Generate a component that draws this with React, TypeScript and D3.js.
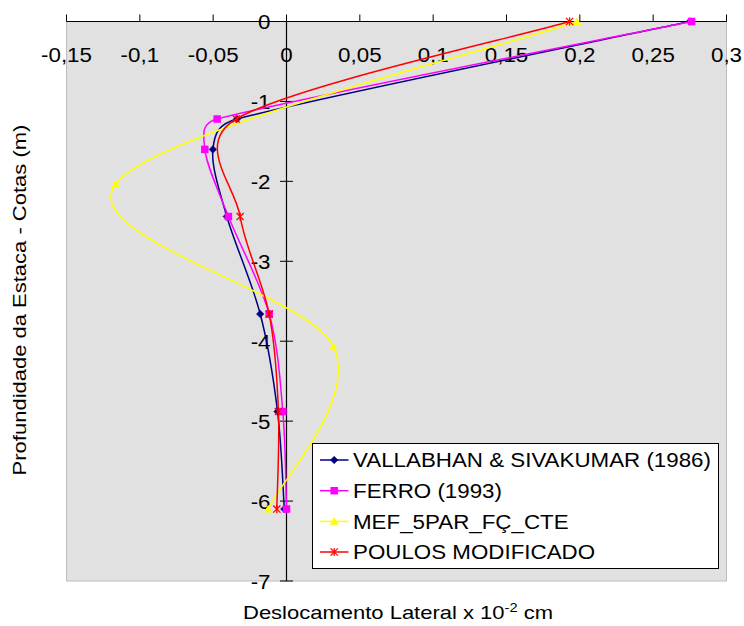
import React from "react";
import * as d3 from "d3";

// Displacement profiles along the pile (depth in m, displacement x 10^-2 cm)
const vallabhanDepth = [0, -1.22, -1.6, -2.44, -3.66, -4.88, -6.1];
const vallabhanDisp = [0.275, -0.0338, -0.0502, -0.0407, -0.0179, -0.0061, -0.0015];

const ferroDepth = [0, -1.22, -1.6, -2.44, -3.66, -4.88, -6.1];
const ferroDisp = [0.2762, -0.0473, -0.0557, -0.0396, -0.0118, -0.0025, 0.0];

const mefDepth = [0, -2.033, -4.067, -6.1];
const mefDisp = [0.198, -0.1165, 0.032, -0.0125];

const poulosDepth = [0, -1.22, -2.44, -3.66, -4.88, -6.1];
const poulosDisp = [0.193, -0.0343, -0.0316, -0.0118, -0.0055, -0.0066];

const seriesNames = [
  "VALLABHAN & SIVAKUMAR (1986)",
  "FERRO (1993)",
  "MEF_5PAR_FÇ_CTE",
  "POULOS MODIFICADO",
];
const seriesColors = ["#000080", "#ff00ff", "#ffff00", "#ff0000"];
const seriesMarkers = ["diamond", "square", "triangle", "asterisk"];

const xTicks = [-0.15, -0.1, -0.05, 0, 0.05, 0.1, 0.15, 0.2, 0.25, 0.3];
const yTicks = [0, -1, -2, -3, -4, -5, -6, -7];

const W = 744;
const H = 626;
const plot = { left: 66.5, right: 726.5, top: 21.5, bottom: 581 };
const FONT = "'Liberation Sans', Arial, Helvetica, sans-serif";

const x = d3.scaleLinear().domain([-0.15, 0.3]).range([plot.left, plot.right]);
const y = d3.scaleLinear().domain([0, -7]).range([plot.top, plot.bottom]);

const fmt = (v: number) => String(v).replace(".", ",");

type Pt = [number, number];

// Spreadsheet-style smoothed line: cubic Béziers with Catmull-Rom tangents,
// control arms capped at half the segment length to avoid overshoot.
function spreadsheetSmooth(context: any) {
  let pts: Pt[] = [];
  const dist = (a: Pt, b: Pt) => Math.hypot(a[0] - b[0], a[1] - b[1]);
  return {
    areaStart() {},
    areaEnd() {},
    lineStart() {
      pts = [];
    },
    point(px: number, py: number) {
      pts.push([+px, +py]);
    },
    lineEnd() {
      const n = pts.length;
      if (!n) return;
      context.moveTo(pts[0][0], pts[0][1]);
      for (let i = 0; i < n - 1; i++) {
        const p0 = pts[Math.max(i - 1, 0)];
        const p1 = pts[i];
        const p2 = pts[i + 1];
        const p3 = pts[Math.min(i + 2, n - 1)];
        const d12 = dist(p1, p2);
        const d02 = dist(p0, p2);
        const d13 = dist(p1, p3);
        let f1 = 1 / 6;
        let f2 = 1 / 6;
        if (d02 / 6 >= d12 / 2) f1 = d02 > 0 ? d12 / d02 / 2 : 0;
        if (d13 / 6 >= d12 / 2) f2 = d13 > 0 ? d12 / d13 / 2 : 0;
        context.bezierCurveTo(
          p1[0] + f1 * (p2[0] - p0[0]),
          p1[1] + f1 * (p2[1] - p0[1]),
          p2[0] - f2 * (p3[0] - p1[0]),
          p2[1] - f2 * (p3[1] - p1[1]),
          p2[0],
          p2[1]
        );
      }
    },
  };
}

function Marker({ kind, cx, cy, color }: { kind: string; cx: number; cy: number; color: string }) {
  if (kind === "diamond") {
    const r = 3.8;
    return (
      <polygon
        points={`${cx},${cy - r} ${cx + r},${cy} ${cx},${cy + r} ${cx - r},${cy}`}
        fill={color}
        stroke={color}
        strokeWidth={0.5}
      />
    );
  }
  if (kind === "square") {
    const s = 7.5;
    return <rect x={cx - s / 2} y={cy - s / 2} width={s} height={s} fill={color} />;
  }
  if (kind === "triangle") {
    const r = 4.3;
    return (
      <polygon
        points={`${cx},${cy - r} ${cx + r},${cy + r * 0.8} ${cx - r},${cy + r * 0.8}`}
        fill={color}
      />
    );
  }
  const r = 3.6;
  return (
    <g stroke={color} strokeWidth={1.3}>
      <line x1={cx - r} y1={cy - r} x2={cx + r} y2={cy + r} />
      <line x1={cx - r} y1={cy + r} x2={cx + r} y2={cy - r} />
      <line x1={cx} y1={cy - r - 0.5} x2={cx} y2={cy + r + 0.5} />
    </g>
  );
}

export default function App() {
  const series: Pt[][] = [
    vallabhanDisp.map((d, i) => [d, vallabhanDepth[i]] as Pt),
    ferroDisp.map((d, i) => [d, ferroDepth[i]] as Pt),
    mefDisp.map((d, i) => [d, mefDepth[i]] as Pt),
    poulosDisp.map((d, i) => [d, poulosDepth[i]] as Pt),
  ];

  const line = d3
    .line<Pt>()
    .x((p) => x(p[0]))
    .y((p) => y(p[1]))
    .curve(spreadsheetSmooth as any);

  const x0 = x(0);
  const legend = { x: 312.5, y: 443.5, w: 406, h: 125 };
  const legendRows = [467.3, 498, 528.7, 559.3];

  return (
    <svg
      width={W}
      height={H}
      style={{ position: "absolute", left: 0, top: 0, background: "#ffffff" }}
      fontFamily={FONT}
    >
      {/* plot area */}
      <rect
        x={plot.left}
        y={plot.top}
        width={plot.right - plot.left}
        height={plot.bottom - plot.top}
        fill="#e1e1e1"
        stroke="#bdbdbd"
        strokeWidth={1}
      />

      {/* horizontal axis along depth 0 */}
      <line x1={plot.left} x2={plot.right} y1={y(0)} y2={y(0)} stroke="#000" strokeWidth={1.2} />
      {xTicks.map((t) => (
        <g key={`xt${t}`}>
          <line x1={x(t)} x2={x(t)} y1={y(0) - 7} y2={y(0)} stroke="#000" strokeWidth={1} />
          <text
            transform={`translate(${x(t)},62) scale(1.09,1)`}
            textAnchor="middle"
            fontSize={20.5}
            fill="#000"
          >
            {fmt(t)}
          </text>
        </g>
      ))}

      {/* vertical axis along displacement 0 */}
      <line x1={x0} x2={x0} y1={plot.top} y2={plot.bottom} stroke="#000" strokeWidth={1.2} />
      {yTicks.map((t) => (
        <g key={`yt${t}`}>
          {t !== 0 && (
            <line x1={x0 - 6.5} x2={x0 + 6.5} y1={y(t)} y2={y(t)} stroke="#000" strokeWidth={1} />
          )}
          <text
            transform={`translate(${x0 - 16},${y(t) + 7.5}) scale(1.09,1)`}
            textAnchor="end"
            fontSize={20.5}
            fill="#000"
          >
            {fmt(t)}
          </text>
        </g>
      ))}

      {/* series */}
      {series.map((pts, i) => (
        <g key={`s${i}`}>
          <path d={line(pts) || ""} fill="none" stroke={seriesColors[i]} strokeWidth={1.5} />
          {pts.map((p, j) => (
            <Marker
              key={j}
              kind={seriesMarkers[i]}
              cx={x(p[0])}
              cy={y(p[1])}
              color={seriesColors[i]}
            />
          ))}
        </g>
      ))}

      {/* legend */}
      <rect x={legend.x} y={legend.y} width={legend.w} height={legend.h} fill="#fff" stroke="#000" strokeWidth={1} />
      {seriesNames.map((name, i) => {
        const cy = legendRows[i] - 7.3;
        return (
          <g key={`lg${i}`}>
            <line x1={320} x2={348.5} y1={cy} y2={cy} stroke={seriesColors[i]} strokeWidth={1.5} />
            <Marker kind={seriesMarkers[i]} cx={334.2} cy={cy} color={seriesColors[i]} />
            <text
              transform={`translate(353,${legendRows[i]}) scale(1.09,1)`}
              fontSize={20.5}
              fill="#000"
            >
              {name}
            </text>
          </g>
        );
      })}

      {/* axis titles */}
      <text
        transform={`translate(398,619) scale(1.17,1)`}
        textAnchor="middle"
        fontSize={18.8}
        fill="#000"
      >
        Deslocamento Lateral x 10
        <tspan fontSize={12.5} dy={-7}>-2</tspan>
        <tspan dy={7}> cm</tspan>
      </text>
      <text
        transform={`translate(25.5,300) rotate(-90) scale(1.17,1)`}
        textAnchor="middle"
        fontSize={18.8}
        fill="#000"
      >
        Profundidade da Estaca - Cotas (m)
      </text>
    </svg>
  );
}
